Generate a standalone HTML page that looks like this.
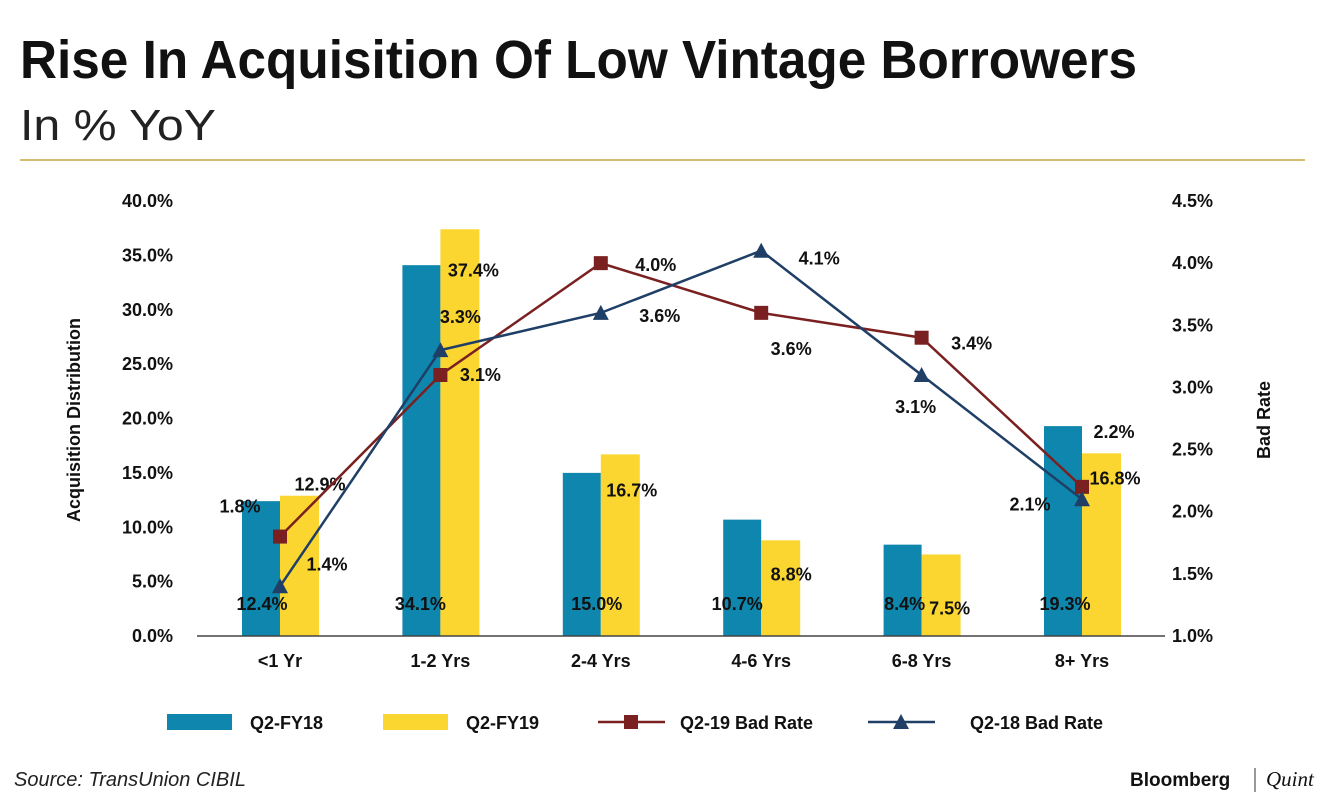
<!DOCTYPE html>
<html><head><meta charset="utf-8"><style>
body{margin:0;background:#fff;width:1340px;height:800px;overflow:hidden;font-family:"Liberation Sans",sans-serif}
</style></head><body>
<svg width="1340" height="800" xmlns="http://www.w3.org/2000/svg">
<text x="20" y="78" font-size="54" font-weight="bold" textLength="1117" lengthAdjust="spacingAndGlyphs" fill="#111">Rise In Acquisition Of Low Vintage Borrowers</text>
<text x="20" y="140" font-size="44" textLength="196" lengthAdjust="spacingAndGlyphs" fill="#222">In % YoY</text>
<line x1="20" y1="160" x2="1305" y2="160" stroke="#c9a640" stroke-width="1.5"/>
<g id="plot"></g>
<text x="80" y="420" font-size="18" font-weight="bold" transform="rotate(-90 80 420)" text-anchor="middle" fill="#111">Acquisition Distribution</text>
<text x="1270" y="420" font-size="18" font-weight="bold" transform="rotate(-90 1270 420)" text-anchor="middle" fill="#111">Bad Rate</text>
<g font-size="18" font-weight="bold" fill="#111">
<rect x="167" y="714" width="65" height="16" fill="#0f86ad"/>
<text x="250" y="729">Q2-FY18</text>
<rect x="383" y="714" width="65" height="16" fill="#fbd631"/>
<text x="466" y="729">Q2-FY19</text>
<line x1="598" y1="722" x2="665" y2="722" stroke="#7a2020" stroke-width="2.5"/>
<rect x="624" y="715" width="14" height="14" fill="#7a2020"/>
<text x="680" y="729">Q2-19 Bad Rate</text>
<line x1="868" y1="722" x2="935" y2="722" stroke="#1f3f66" stroke-width="2.5"/>
<polygon points="901,714 909,729 893,729" fill="#1f3f66"/>
<text x="970" y="729">Q2-18 Bad Rate</text>
</g>
<text x="14" y="786" font-size="20" font-style="italic" fill="#222">Source: TransUnion CIBIL</text>
<text x="1130" y="786" font-size="19" font-weight="bold" fill="#111">Bloomberg</text>
<line x1="1255" y1="768" x2="1255" y2="792" stroke="#333" stroke-width="1"/>
<text x="1266" y="786" font-size="21" font-style="italic" font-family="Liberation Serif,serif" fill="#111">Quint</text>
</svg>
<script>
const categories=["<1 Yr","1-2 Yrs","2-4 Yrs","4-6 Yrs","6-8 Yrs","8+ Yrs"];
const fy18=[12.4,34.1,15.0,10.7,8.4,19.3];
const fy19=[12.9,37.4,16.7,8.8,7.5,16.8];
const bad19=[1.8,3.1,4.0,3.6,3.4,2.2];
const bad18=[1.4,3.3,3.6,4.1,3.1,2.1];
const leftTicks=[0,5,10,15,20,25,30,35,40];
const rightTicks=[1.0,1.5,2.0,2.5,3.0,3.5,4.0,4.5];
const NS="http://www.w3.org/2000/svg";
const g=document.getElementById('plot');
const y0=636,yTop=201;
const yL=v=>y0-(v/40)*(y0-yTop);
const yR=v=>y0-((v-1)/3.5)*(y0-yTop);
const xC=i=>280+i*160.4;
function el(t,a){const e=document.createElementNS(NS,t);for(const k in a)e.setAttribute(k,a[k]);g.appendChild(e);return e;}
function txt(x,y,s,anchor){const e=el('text',{x:x,y:y,'font-size':18,'font-weight':'bold',fill:'#111','text-anchor':anchor||'middle'});e.textContent=s;return e;}
leftTicks.forEach(v=>{const t=txt(173,yL(v)+6,v.toFixed(1)+'%','end');

});
rightTicks.forEach(v=>{const t=txt(1172,yR(v)+6,v.toFixed(1)+'%','start');

});
const offY19=[[40,-5],[33,47],[31,42],[30,40],[28,60],[33,31]];
const offX18=[-18,-20,-4,-24,-17,-17];
categories.forEach((c,i)=>{
const b1=el('rect',{x:xC(i)-38,y:yL(fy18[i]),width:38,height:y0-yL(fy18[i]),fill:'#0f86ad'});


const b2=el('rect',{x:xC(i),y:yL(fy19[i]),width:39,height:y0-yL(fy19[i]),fill:'#fbd631'});


const t=txt(xC(i),667,c);


const l1=txt(xC(i)+offX18[i],610,fy18[i].toFixed(1)+'%');


const l2=txt(xC(i)+offY19[i][0],yL(fy19[i])+offY19[i][1],fy19[i].toFixed(1)+'%');


});
const ax=el('line',{x1:197,y1:y0,x2:1165,y2:y0,stroke:'#444','stroke-width':1.5});


const p19=el('polyline',{points:bad19.map((v,i)=>xC(i)+','+yR(v)).join(' '),fill:'none',stroke:'#7a2020','stroke-width':2.5});


const p18=el('polyline',{points:bad18.map((v,i)=>xC(i)+','+yR(v)).join(' '),fill:'none',stroke:'#1f3f66','stroke-width':2.5});


const off19=[[-40,-30],[40,0],[55,2],[30,36],[50,6],[32,-55]];
const off18=[[47,-22],[20,-33],[59,3],[58,8],[-6,32],[-52,5]];
bad19.forEach((v,i)=>{
const m=el('rect',{x:xC(i)-7,y:yR(v)-7,width:14,height:14,fill:'#7a2020'});


const t=txt(xC(i)+off19[i][0],yR(v)+6+off19[i][1],v.toFixed(1)+'%');


});
bad18.forEach((v,i)=>{
const m=el('polygon',{points:`${xC(i)},${yR(v)-8} ${xC(i)+8},${yR(v)+7} ${xC(i)-8},${yR(v)+7}`,fill:'#1f3f66'});


const t=txt(xC(i)+off18[i][0],yR(v)+6+off18[i][1],v.toFixed(1)+'%');


});
</script>
</body></html>
